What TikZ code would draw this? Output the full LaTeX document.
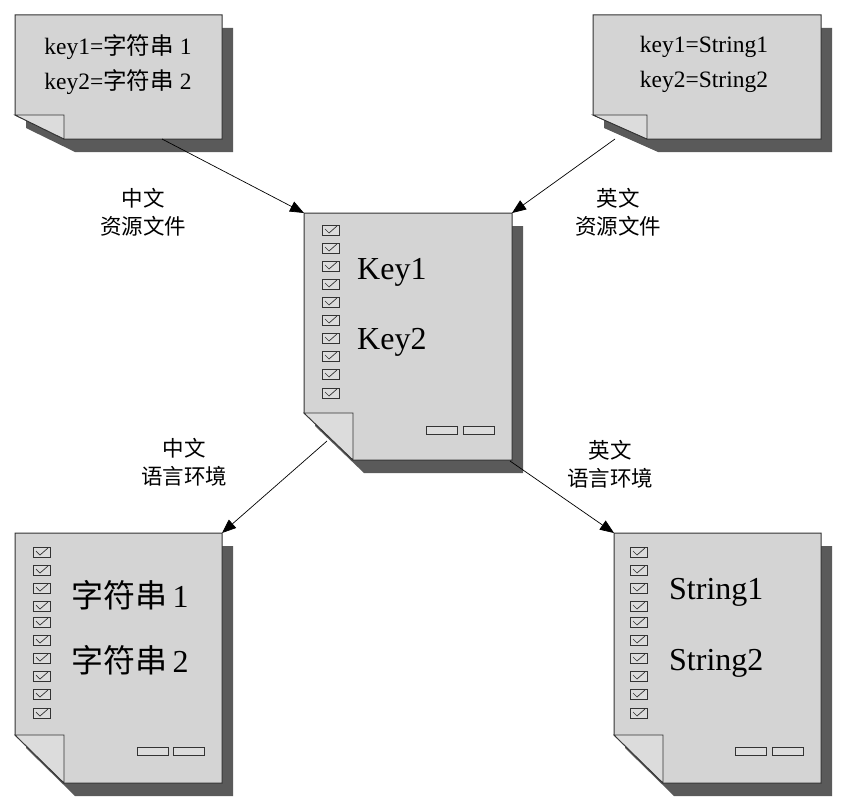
\documentclass[tikz,border=0pt]{standalone}
\usepackage{fontspec}
\setmainfont{Liberation Serif}
\newfontfamily\cjk{Noto Sans CJK SC}
\usetikzlibrary{arrows.meta}
\definecolor{pagefill}{HTML}{D4D4D4}
\definecolor{foldfill}{HTML}{DCDCDC}
\definecolor{shadowgray}{HTML}{5A5A5A}
\definecolor{edge}{HTML}{333333}
\tikzset{
  pageline/.style={draw=edge,line width=1pt,fill=pagefill},
  foldline/.style={draw=edge,line width=0.8pt,fill=foldfill},
  shadowfill/.style={fill=shadowgray},
  conn/.style={draw=black,line width=0.7pt,-{Triangle[length=14pt,width=11pt]}},
  lbl/.style={font=\cjk\fontsize{21.5}{28}\selectfont,align=center,inner sep=0pt},
  doctxt/.style={font=\fontsize{23.5}{27}\selectfont,inner sep=0pt},
  bigtxt/.style={font=\fontsize{32}{36}\selectfont,inner sep=0pt,anchor=west},
  smallbar/.style={draw=edge,line width=0.8pt,fill=foldfill}
}
% #1 name, #2 x0, #3 y0, #4 x1, #5 y1, #6 xf, #7 yf
\newcommand\docpage[7]{%
  \fill[shadowfill] (#2+11,#3+13) -- (#4+11,#3+13) -- (#4+11,#5+13) -- (#6+11,#5+13) -- (#2+11,#7+13) -- cycle;
  \draw[pageline] (#2,#3) -- (#4,#3) -- (#4,#5) -- (#6,#5) -- (#2,#7) -- cycle;
  \draw[foldline] (#2,#7) -- (#6,#7) -- (#6,#5) -- cycle;
  \coordinate (#1-nw) at (#2,#3);
  \coordinate (#1-ne) at (#4,#3);
}
\newcommand\chkbox[2]{%
  \draw[draw=edge,line width=0.9pt,fill=foldfill] (#1,#2-5) rectangle (#1+17,#2+5);
  \draw[draw=edge,line width=0.7pt] (#1+3,#2-1) -- (#1+7,#2+3) -- (#1+15,#2-4);
}
\begin{document}
\begin{tikzpicture}[x=1pt,y=-1pt]
\useasboundingbox[fill=white] (0,0) rectangle (854,800);

% top-left source file
\docpage{tl}{15}{15}{222}{139}{64}{115}
\node[doctxt] (tl1) at (118,47) {key1={\cjk 字符串} 1};
\node[doctxt] (tl2) at (118,82) {key2={\cjk 字符串} 2};
\coordinate (tl-out) at (162,139);

% top-right source file
\docpage{tr}{593}{15}{821}{139}{647}{115}
\node[doctxt] (tr1) at (704,47) {key1=String1};
\node[doctxt] (tr2) at (704,82) {key2=String2};
\coordinate (tr-out) at (615,139);

% centre document
\docpage{c}{304}{213}{512}{460}{353}{413}
\foreach \yy in {230,248,266,284,302,320,338,356,374,393}{\chkbox{322}{\yy}}
\node[bigtxt] (k1) at (357,272) {Key1};
\node[bigtxt] (k2) at (357,342) {Key2};
\draw[smallbar] (426,426) rectangle (457,434);
\draw[smallbar] (463,426) rectangle (494,434);
\coordinate (c-out1) at (327,441);
\coordinate (c-out2) at (510,461);

% bottom-left document
\docpage{bl}{15}{533}{222}{783}{64}{735}
\foreach \yy in {552,570,588,606,622,640,658,676,694,713}{\chkbox{33}{\yy}}
\node[bigtxt] (z1) at (71,595) {{\cjk 字符串}\,1};
\node[bigtxt] (z2) at (71,660) {{\cjk 字符串}\,2};
\draw[smallbar] (137,747) rectangle (168,755);
\draw[smallbar] (173,747) rectangle (204,755);

% bottom-right document
\docpage{br}{614}{533}{821}{783}{663}{735}
\foreach \yy in {552,570,588,606,622,640,658,676,694,713}{\chkbox{630}{\yy}}
\node[bigtxt] (s1) at (669,592) {String1};
\node[bigtxt] (s2) at (669,663) {String2};
\draw[smallbar] (735,747) rectangle (766,755);
\draw[smallbar] (772,747) rectangle (803,755);

% connectors
\draw[conn] (tl-out) -- (c-nw);
\draw[conn] (tr-out) -- (c-ne);
\draw[conn] (c-out1) -- (bl-ne);
\draw[conn] (c-out2) -- (br-nw);

% labels
\node[lbl] (l1) at (143,212) {中文\\资源文件};
\node[lbl] (l2) at (618,212) {英文\\资源文件};
\node[lbl] (l3) at (184,462) {中文\\语言环境};
\node[lbl] (l4) at (610,464) {英文\\语言环境};
\end{tikzpicture}
\end{document}
